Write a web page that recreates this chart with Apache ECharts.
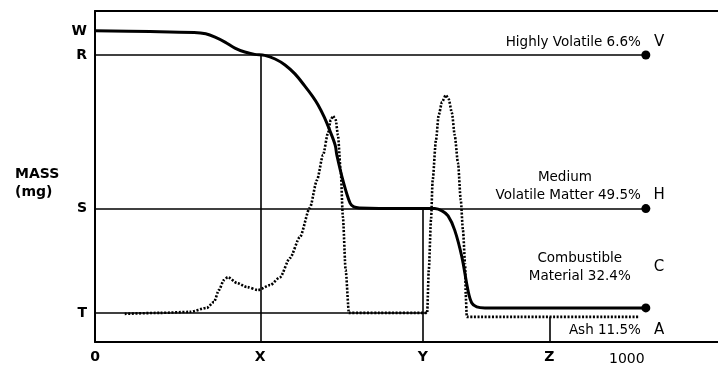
<!DOCTYPE html>
<html><head><meta charset="utf-8">
<script src="https://cdn.jsdelivr.net/npm/echarts@6/dist/echarts.min.js"></script>
<style>html,body{margin:0;padding:0;background:#fff}#c{width:718px;height:370px}</style>
</head><body><div id="c"></div>
<script>
// TG curve (mass, solid) — x: temperature, y: mass (arbitrary units)
const tgTemp = [0,100,180,201,218,236,254,272,290,308,327,345,363,381,395,405,416,426,436,439,450,463,470,481,554,617,630,641,653,666,677,684,693,708,1000];
const tgMass = [94.0,93.8,93.5,93.1,92.1,90.6,88.8,87.6,86.9,86.6,85.5,83.7,81.0,77.3,74.2,71.6,68.0,64.0,59.5,56.5,48.9,42.0,40.8,40.5,40.3,40.3,39.6,38.1,33.8,25.7,15.7,11.8,10.6,10.3,10.3];
// DTG curve (rate of mass loss, dotted)
const dtgTemp = [54,118,172,203,216,225,234,241,258,276,296,318,336,354,372,390,403,414,423,428,432,437,441,446,450,455,461,517,603,606,610,613,619,624,630,637,642,648,653,659,664,668,672,673,675,771,989];
const dtgRate = [8.5,8.8,9.1,10.3,12.1,15.7,18.7,19.6,17.8,16.6,15.7,17.2,19.6,25.4,31.7,40.5,48.9,56.5,63.1,67.1,68.3,67.1,62.5,52.0,37.8,21.8,8.8,8.8,8.8,21.8,36.9,48.9,61.0,68.6,72.5,74.6,73.4,69.2,62.5,54.1,42.9,33.8,23.3,14.2,7.6,7.6,7.6];
// Y-axis levels
const levelNames = ['W','R','S','T'];
const levelValues = [93.7, 86.7, 40.3, 8.8];
// X-axis marks
const markNames = ['0','X','Y','Z','1000'];
const markTemps = [0, 300, 595, 825, 1000];
// Fraction end points on the right line
const endTemp = 1000;
const endLevels = [86.7, 40.3, 10.3];
const ashLevel = 7.6;
// Right-side letters
const sideLetters = ['V','H','C','A'];
const sideLevels = [90.6, 44.4, 22.7, 3.6];
const sideTemp = 1024;
// Fraction annotations
const annotTexts = ['Highly Volatile 6.6%','Volatile Matter 49.5%','Ash 11.5%','Medium','Combustible\nMaterial 32.4%'];
const annotTemps = [991, 991, 991, 853, 880];
const annotLevels = [90.6, 44.4, 3.6, 49.6, 22.4];
const annotRightAligned = [true, true, true, false, false];

const FONT = 'DejaVu Sans';
const ink = '#000';
const chart = echarts.init(document.getElementById('c'), null, {renderer:'canvas'});

const labelMap = {};
levelValues.forEach((v,i)=>labelMap[v]=levelNames[i]);
const xMap = {};
markTemps.forEach((v,i)=>xMap[v]=markNames[i]);

const thin = {color: ink, width: 1.6, type: 'solid', opacity: 1};
function seg(a, b, style){ return [{coord:a, lineStyle: style||thin}, {coord:b}]; }

chart.setOption({
  animation: false,
  title: {text: 'MASS\n(mg)', left: 15, top: 165, padding: 0, textStyle: {fontFamily: FONT, fontSize: 14, fontWeight: 'bold', color: ink, lineHeight: 18}},
  grid: {left: 95, right: 0, top: 11, bottom: 28},
  xAxis: [{
    type: 'value', min: 0, max: 1131, position: 'bottom',
    splitLine: {show: false},
    axisLine: {show: true, lineStyle: {color: ink, width: 2}},
    axisTick: {show: false},
    axisLabel: {
      customValues: markTemps, margin: 8,
      fontFamily: FONT, fontSize: 14, fontWeight: 'bold', color: ink,
      formatter: v => v === 1000 ? '{r|1000}' : (xMap[v] || ''),
      rich: {r: {fontFamily: FONT, fontSize: 14, fontWeight: 'normal', color: ink, padding: [2, 38, 0, 0]}}
    }
  }, {
    type: 'value', min: 0, max: 1131, position: 'top',
    splitLine: {show: false},
    axisLine: {show: true, lineStyle: {color: ink, width: 2}},
    axisTick: {show: false}, axisLabel: {show: false}
  }],
  yAxis: {
    type: 'value', min: 0, max: 100,
    splitLine: {show: false},
    axisLine: {show: true, lineStyle: {color: ink, width: 2}},
    axisTick: {show: false},
    axisLabel: {
      customValues: levelValues, margin: 8,
      fontFamily: FONT, fontSize: 14, fontWeight: 'bold', color: ink,
      formatter: v => labelMap[v] || ''
    }
  },
  series: [
    {
      type: 'line', name: 'guides', data: [], silent: true,
      markLine: {
        silent: true, symbol: 'none', label: {show: false},
        lineStyle: thin,
        data: [
          seg([0, levelValues[1]], [endTemp, levelValues[1]]),
          seg([0, levelValues[2]], [endTemp, levelValues[2]]),
          seg([0, levelValues[3]], [603, levelValues[3]]),
          seg([markTemps[1], 0], [markTemps[1], levelValues[1]]),
          seg([markTemps[2], 0], [markTemps[2], levelValues[2]]),
          seg([markTemps[3], 0], [markTemps[3], ashLevel]),
          seg([endTemp, -2], [endTemp, 100])
        ]
      }
    },
    {
      type: 'line', name: 'DTG', data: dtgTemp.map((t,i)=>[t, dtgRate[i]]),
      showSymbol: false, smooth: 0.25, smoothMonotone: 'x',
      lineStyle: {color: ink, width: 2.6, type: [2, 1.6]}, z: 3
    },
    {
      type: 'line', name: 'TG', data: tgTemp.map((t,i)=>[t, tgMass[i]]),
      showSymbol: false, smooth: 0.35,
      lineStyle: {color: ink, width: 3}, z: 4
    },
    {
      type: 'scatter', name: 'ends', data: endLevels.map(v=>[endTemp, v]),
      symbolSize: 9, itemStyle: {color: ink, opacity: 1}, z: 5
    },
    {
      type: 'scatter', name: 'letters', data: sideLetters.map((s,i)=>({value:[sideTemp, sideLevels[i]], name: s})),
      symbolSize: 0, z: 5, itemStyle: {opacity: 1},
      label: {show: true, position: 'inside', formatter: p => p.name, fontFamily: FONT, fontSize: 15, color: ink}
    },
    {
      type: 'scatter', name: 'annot', symbolSize: 0, z: 5, itemStyle: {opacity: 1},
      data: annotTexts.map((s,i)=>({
        value:[annotTemps[i], annotLevels[i]], name: s,
        label: annotRightAligned[i] ? {position: 'left', distance: 0, align: 'right'} : {position: 'inside', align: 'center'}
      })),
      label: {show: true, formatter: p => p.name, fontFamily: FONT, fontSize: 13.5, color: ink, lineHeight: 18}
    }
  ]
});
</script></body></html>
